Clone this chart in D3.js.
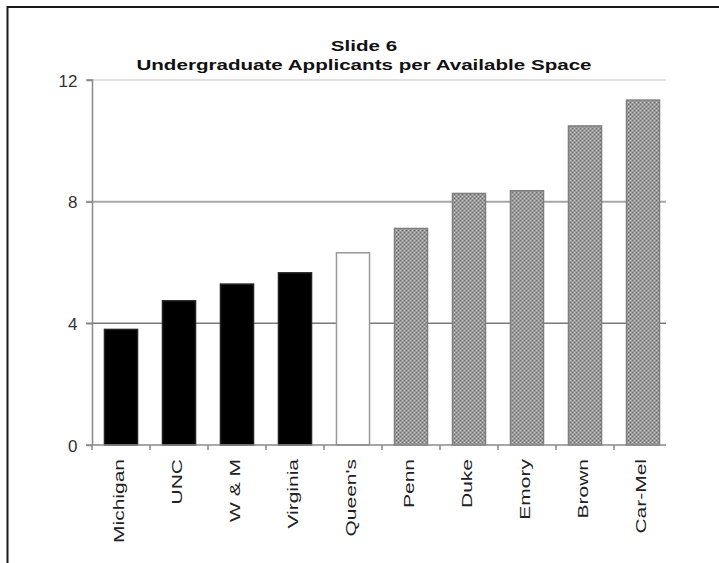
<!DOCTYPE html>
<html><head><meta charset="utf-8">
<script src="https://cdn.jsdelivr.net/npm/d3@7"></script>
<style>body{margin:0;background:#fff}svg{display:block}</style>
</head><body>
<script>
const categories = ["Michigan","UNC","W & M","Virginia","Queen's","Penn","Duke","Emory","Brown","Car-Mel"];
const values = [3.80, 4.74, 5.29, 5.66, 6.32, 7.12, 8.27, 8.36, 10.49, 11.34];
const groups = ["public","public","public","public","queens","private","private","private","private","private"];
const yTicks = [0, 4, 8, 12];
const titleLines = ["Slide 6", "Undergraduate Applicants per Available Space"];

const W = 719, H = 563;
const FONT = "'Liberation Sans', Arial, sans-serif";
const svg = d3.select("body").append("svg").attr("width", W).attr("height", H);
const defs = svg.append("defs");
const pat = defs.append("pattern").attr("id","hatch").attr("patternUnits","userSpaceOnUse")
  .attr("width",4).attr("height",4);
pat.append("rect").attr("width",4).attr("height",4).attr("fill","#9a9a9a");
pat.append("rect").attr("x",0).attr("y",0).attr("width",1).attr("height",1).attr("fill","#686868");
pat.append("rect").attr("x",2).attr("y",2).attr("width",1).attr("height",1).attr("fill","#686868");
pat.append("rect").attr("x",2).attr("y",0).attr("width",1).attr("height",1).attr("fill","#c8c8c8");
pat.append("rect").attr("x",0).attr("y",2).attr("width",1).attr("height",1).attr("fill","#c8c8c8");

// frame
svg.append("rect").attr("x",7.5).attr("y",7).attr("width",800).attr("height",700)
  .attr("fill","none").attr("stroke","#1a1a1a").attr("stroke-width",2);

const x = d3.scaleBand().domain(categories).range([92, 672]).paddingInner(0.43).paddingOuter(0.215);
const y = d3.scaleLinear().domain([0, 12]).range([445, 80]);
const plotRight = 666;

// gridlines
const gridStyle = {12:["#d6d6d6",1.5], 8:["#a6a6a6",2], 4:["#7a7a7a",1.5]};
svg.append("g").selectAll("line").data(yTicks.filter(d=>d>0)).join("line")
  .attr("x1",86).attr("x2",plotRight).attr("y1",d=>y(d)).attr("y2",d=>y(d))
  .attr("stroke",d=>gridStyle[d][0]).attr("stroke-width",d=>gridStyle[d][1]);

// bars
const fillFor = g => g==="public" ? "#000" : g==="queens" ? "#fff" : "url(#hatch)";
const strokeFor = g => g==="public" ? "#222" : g==="queens" ? "#999" : "#808080";
svg.append("g").selectAll("rect").data(categories).join("rect")
  .attr("x",d=>x(d)).attr("width",x.bandwidth())
  .attr("y",(d,i)=>y(values[i])).attr("height",(d,i)=>y(0)-y(values[i]))
  .attr("fill",(d,i)=>fillFor(groups[i])).attr("stroke",(d,i)=>strokeFor(groups[i]))
  .attr("stroke-width",1.5);

// y axis
const yAxis = svg.append("g").attr("transform","translate(92.5,0)")
  .call(d3.axisLeft(y).tickValues(yTicks).tickSize(6).tickFormat(d3.format("d")));
yAxis.select(".domain").attr("stroke","#8a8a8a").attr("stroke-width",1.5).attr("d",`M-6,${y(12)}H0V${y(0)}`);
yAxis.selectAll(".tick line").attr("stroke","#8a8a8a").attr("stroke-width",1.5);
yAxis.selectAll("text").attr("font-family",FONT)
  .attr("font-size",17).attr("fill","#333").attr("x",-15).attr("dy","0.36em");

// x axis
const xAxis = svg.append("g").attr("transform",`translate(0,${y(0)})`);
xAxis.append("line").attr("x1",86).attr("x2",plotRight).attr("y1",0).attr("y2",0)
  .attr("stroke","#8a8a8a").attr("stroke-width",1.5);
const step = x.step();
const boundaries = d3.range(categories.length).map(i => x(categories[i]) - (step - x.bandwidth())/2);
xAxis.selectAll("line.tk").data(boundaries).join("line").attr("class","tk")
  .attr("x1",d=>d).attr("x2",d=>d).attr("y1",0).attr("y2",5)
  .attr("stroke","#8a8a8a").attr("stroke-width",1.5);
xAxis.selectAll("text").data(categories).join("text")
  .attr("transform",d=>`translate(${x(d)+x.bandwidth()/2+2.5},14) rotate(-90) scale(1.4,1)`)
  .attr("text-anchor","end")
  .attr("font-family",FONT).attr("font-size",15).attr("fill","#222")
  .text(d=>d);

// title
svg.append("g").selectAll("text").data(titleLines).join("text")
  .attr("transform",(d,i)=>`translate(364,${51+i*19}) scale(1.42,1)`)
  .attr("text-anchor","middle")
  .attr("font-family",FONT).attr("font-weight","bold")
  .attr("font-size",14.5).attr("fill","#111")
  .text(d=>d);
</script>
</body></html>
